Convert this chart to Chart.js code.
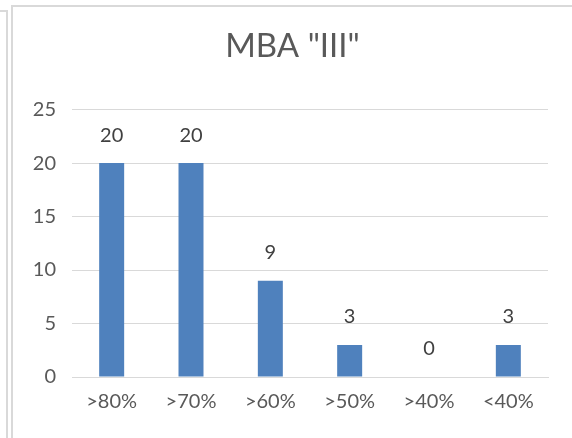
<!DOCTYPE html>
<html>
<head>
<meta charset="utf-8">
<script src="https://cdn.jsdelivr.net/npm/chart.js@4/dist/chart.umd.min.js"></script>
<style>
  html, body { margin: 0; padding: 0; background: #ffffff; }
  body { width: 572px; height: 438px; position: relative; overflow: hidden; }
  #outer { position: absolute; left: -2px; top: 10px; width: 8px; height: 440px;
           border-top: 2px solid #d9d9d9; border-right: 2px solid #d9d9d9; }
  #frame { position: absolute; left: 11px; top: 5px; width: 570px; height: 440px;
           border-left: 2px solid #d9d9d9; border-top: 2px solid #d9d9d9; }
  #wrap { position: absolute; left: 13px; top: 7px; width: 559px; height: 431px; }
</style>
</head>
<body>
<div id="outer"></div>
<div id="frame"></div>
<div id="wrap"><canvas id="c" width="559" height="431"></canvas></div>
<script>
const titleText = 'MBA "III"';
const categories = ['>80%', '>70%', '>60%', '>50%', '>40%', '<40%'];
const values = [20, 20, 9, 3, 0, 3];
const yTicks = [0, 5, 10, 15, 20, 25];

const valueLabels = {
  id: 'valueLabels',
  afterDatasetsDraw(chart) {
    const ctx = chart.ctx;
    const meta = chart.getDatasetMeta(0);
    ctx.save();
    ctx.font = '20px Lato';
    ctx.fillStyle = '#404040';
    ctx.textAlign = 'center';
    ctx.textBaseline = 'middle';
    meta.data.forEach((bar, i) => {
      ctx.fillText(String(chart.data.datasets[0].data[i]), bar.x, bar.y - 28);
    });
    ctx.restore();
  }
};

new Chart(document.getElementById('c'), {
  type: 'bar',
  data: {
    labels: categories,
    datasets: [{
      data: values,
      backgroundColor: '#4f81bd',
      borderWidth: 0,
      categoryPercentage: 1,
      barPercentage: 0.315
    }]
  },
  options: {
    responsive: false,
    animation: false,
    devicePixelRatio: 1,
    layout: { padding: { left: 0, right: 0, top: 0, bottom: 23 } },
    plugins: {
      legend: { display: false },
      tooltip: { enabled: false },
      title: {
        display: true,
        text: titleText,
        color: '#595959',
        font: { family: 'Lato', size: 33, weight: '400' },
        padding: { top: 20, bottom: 43 }
      }
    },
    scales: {
      x: {
        grid: { display: false, drawTicks: false },
        border: { display: true, color: '#d9d9d9', width: 1 },
        ticks: { color: '#595959', font: { family: 'Lato', size: 20 }, padding: 13 },
        afterFit(scale) { scale.height = 38; }
      },
      y: {
        min: 0, max: 25,
        afterBuildTicks(scale) { scale.ticks = yTicks.map(v => ({ value: v })); },
        grid: { color: '#d9d9d9', lineWidth: 1, drawTicks: false },
        border: { display: false },
        ticks: { color: '#595959', font: { family: 'Lato', size: 20 }, padding: 16 },
        afterFit(scale) { scale.width = 59; }
      },
      yPad: {
        position: 'right',
        min: 0, max: 25,
        grid: { display: false, drawTicks: false },
        border: { display: false },
        ticks: { display: false },
        afterFit(scale) { scale.width = 24; }
      }
    }
  },
  plugins: [valueLabels]
});
</script>
</body>
</html>
